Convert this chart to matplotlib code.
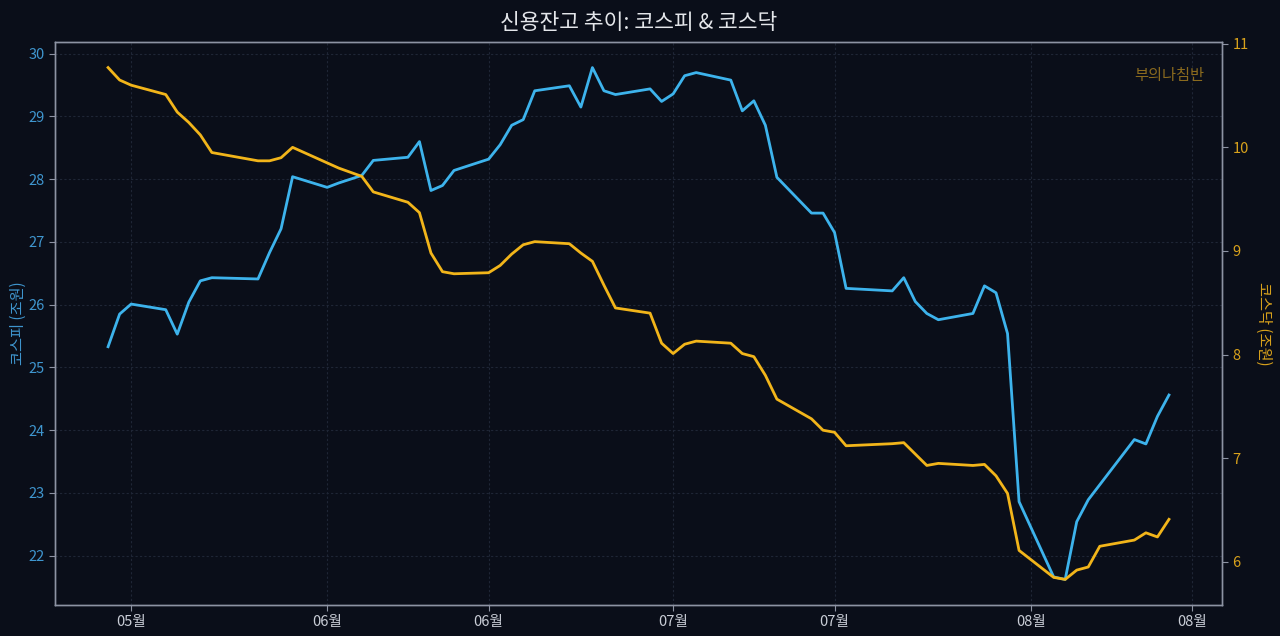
import matplotlib
matplotlib.use("Agg")
import matplotlib.pyplot as plt
import matplotlib.dates as mdates
import numpy as np

plt.rcParams['font.family'] = ['Noto Sans CJK KR', 'DejaVu Sans']

dates = [
    "2026-05-13", "2026-05-14", "2026-05-15", "2026-05-18", "2026-05-19", "2026-05-20",
    "2026-05-21", "2026-05-22", "2026-05-26", "2026-05-27", "2026-05-28", "2026-05-29",
    "2026-06-01", "2026-06-02", "2026-06-04", "2026-06-05", "2026-06-08", "2026-06-09",
    "2026-06-10", "2026-06-11", "2026-06-12", "2026-06-15", "2026-06-16", "2026-06-17",
    "2026-06-18", "2026-06-19", "2026-06-22", "2026-06-23", "2026-06-24", "2026-06-25",
    "2026-06-26", "2026-06-29", "2026-06-30", "2026-07-01", "2026-07-02", "2026-07-03",
    "2026-07-06", "2026-07-07", "2026-07-08", "2026-07-09", "2026-07-10", "2026-07-13",
    "2026-07-14", "2026-07-15", "2026-07-16", "2026-07-20", "2026-07-21", "2026-07-22",
    "2026-07-23", "2026-07-24", "2026-07-27", "2026-07-28", "2026-07-29", "2026-07-30",
    "2026-07-31", "2026-08-03", "2026-08-04", "2026-08-05", "2026-08-06", "2026-08-07",
    "2026-08-10", "2026-08-11", "2026-08-12", "2026-08-13",
]

kospi = [
    25.33, 25.85, 26.01, 25.92, 25.53, 26.04,
    26.38, 26.43, 26.41, 26.83, 27.21, 28.04,
    27.87, 27.94, 28.06, 28.30, 28.35, 28.60,
    27.82, 27.90, 28.14, 28.32, 28.55, 28.86,
    28.95, 29.41, 29.49, 29.15, 29.78, 29.41,
    29.35, 29.44, 29.24, 29.36, 29.65, 29.70,
    29.58, 29.09, 29.25, 28.86, 28.03, 27.46,
    27.46, 27.15, 26.26, 26.22, 26.43, 26.05,
    25.86, 25.76, 25.86, 26.30, 26.19, 25.54,
    22.86, 21.66, 21.62, 22.54, 22.89, 23.13,
    23.85, 23.78, 24.22, 24.56,
]

kosdaq = [
    10.77, 10.65, 10.60, 10.51, 10.34, 10.24,
    10.12, 9.95, 9.87, 9.87, 9.90, 10.00,
    9.85, 9.80, 9.72, 9.57, 9.47, 9.37,
    8.98, 8.80, 8.78, 8.79, 8.86, 8.97,
    9.06, 9.09, 9.07, 8.98, 8.90, 8.67,
    8.45, 8.40, 8.11, 8.01, 8.10, 8.13,
    8.11, 8.01, 7.98, 7.80, 7.57, 7.38,
    7.27, 7.25, 7.12, 7.14, 7.15, 7.04,
    6.93, 6.95, 6.93, 6.94, 6.83, 6.66,
    6.11, 5.85, 5.83, 5.92, 5.95, 6.15,
    6.21, 6.28, 6.24, 6.41,
]

title = "신용잔고 추이: 코스피 & 코스닥"
left_label = "코스피 (조원)"
right_label = "코스닥 (조원)"
watermark = "부의나침반"

BG = "#0a0e19"
BLUE = "#3db3ec"
GOLD = "#f2b51a"
BLUE_TXT = "#3f96cf"
GOLD_TXT = "#d9a21c"
SPINE = "#8d93a3"
GRID = "#1f2636"

x = np.array(dates, dtype="datetime64[D]")

fig = plt.figure(figsize=(12.8, 6.36), dpi=100, facecolor=BG)
ax = fig.add_axes([0.043, 0.0487, 0.9117, 0.8853])
ax.set_facecolor(BG)
ax2 = ax.twinx()

ax.plot(x, kospi, color=BLUE, lw=2.0, zorder=3)
ax2.plot(x, kosdaq, color=GOLD, lw=2.0, zorder=3)

ax.xaxis.set_major_locator(mdates.DayLocator(bymonthday=[1, 15]))
ax.xaxis.set_major_formatter(mdates.DateFormatter("%m월"))

ax.set_yticks([22, 23, 24, 25, 26, 27, 28, 29, 30])
ax2.set_yticks([6, 7, 8, 9, 10, 11])

ax.grid(True, color=GRID, linestyle=(0, (2, 2)), linewidth=0.8, zorder=0)
ax2.grid(False)

for a in (ax, ax2):
    for s in a.spines.values():
        s.set_color(SPINE)
        s.set_linewidth(1.0)

ax.tick_params(axis="x", colors=SPINE, labelcolor="#c9cdd6", labelsize=10.5, length=4)
ax.tick_params(axis="y", colors=SPINE, labelcolor=BLUE_TXT, labelsize=10.5, length=4)
ax2.tick_params(axis="y", colors=SPINE, labelcolor=GOLD_TXT, labelsize=10.5, length=4)

ax.set_ylabel(left_label, color=BLUE_TXT, fontsize=11, labelpad=1)
ax2.set_ylabel(right_label, color=GOLD_TXT, fontsize=11, rotation=270, labelpad=17)

ax.set_title(title, color="#e4e6ea", fontsize=15.5, pad=9)

ax2.text(0.985, 0.955, watermark, transform=ax2.transAxes, ha="right", va="top",
         color="#8a6a1e", fontsize=11)

fig.savefig("out.png", dpi=100, facecolor=BG)
